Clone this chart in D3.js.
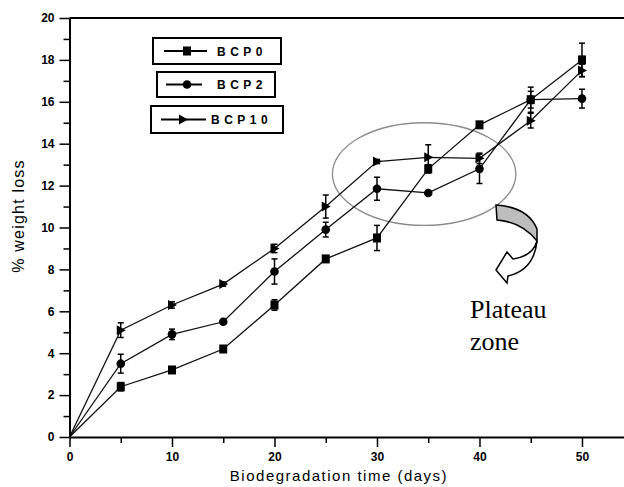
<!DOCTYPE html>
<html>
<head>
<meta charset="utf-8">
<script src="https://cdn.jsdelivr.net/npm/d3@7/dist/d3.min.js"></script>
<style>
  body { margin: 0; background: #fff; }
  svg { display: block; }
</style>
</head>
<body>
<svg id="chart"></svg>
<script>
const width = 624;
const height = 487;

// data
const days = [0, 5, 10, 15, 20, 25, 30, 35, 40, 45, 50];
const bcp0 = [0, 2.4, 3.2, 4.2, 6.3, 8.5, 9.5, 12.8, 14.9, 16.1, 18.0];
const bcp0Err = [0, 0.2, 0.15, 0.1, 0.25, 0.1, 0.6, 0.2, 0.15, 0.6, 0.8];
const bcp2 = [0, 3.5, 4.9, 5.5, 7.9, 9.9, 11.85, 11.65, 12.8, 16.1, 16.15];
const bcp2Err = [0, 0.45, 0.25, 0.1, 0.6, 0.35, 0.55, 0.1, 0.7, 0.4, 0.45];
const bcp10 = [0, 5.1, 6.3, 7.3, 9.0, 11.0, 13.15, 13.35, 13.3, 15.1, 17.5];
const bcp10Err = [0, 0.35, 0.15, 0.1, 0.2, 0.55, 0.1, 0.6, 0.25, 0.35, 0.3];
const seriesNames = ["BCP0", "BCP2", "BCP10"];
const xMajorTicks = [0, 10, 20, 30, 40, 50];
const xMinorTicks = [5, 15, 25, 35, 45];
const yMajorTicks = [0, 2, 4, 6, 8, 10, 12, 14, 16, 18, 20];
const yMinorTicks = [1, 3, 5, 7, 9, 11, 13, 15, 17, 19];

const series = [
  { name: seriesNames[0], values: bcp0, err: bcp0Err, shape: "square" },
  { name: seriesNames[1], values: bcp2, err: bcp2Err, shape: "circle" },
  { name: seriesNames[2], values: bcp10, err: bcp10Err, shape: "triangle" },
];

const svg = d3.select("#chart").attr("width", width).attr("height", height);

const x = d3.scaleLinear().domain([0, 54.1]).range([69.5, width]);
const y = d3.scaleLinear().domain([0, 20]).range([437, 18]);

const axisFont = "'Liberation Sans', Arial, sans-serif";

// marker drawing
function marker(g, shape) {
  if (shape === "square") {
    g.append("rect").attr("x", -4).attr("y", -4.5).attr("width", 8).attr("height", 9).attr("fill", "#000");
  } else if (shape === "circle") {
    g.append("circle").attr("r", 4.3).attr("fill", "#000");
  } else {
    g.append("path").attr("d", "M-4,-5L5,0L-4,5Z").attr("fill", "#000");
  }
}

// annotation ellipse (plateau zone)
svg.append("ellipse")
  .attr("cx", x(34.6))
  .attr("cy", y(12.55))
  .attr("rx", x(34.6 + 8.95) - x(34.6))
  .attr("ry", y(12.55) - y(12.55 + 2.45))
  .attr("fill", "none")
  .attr("stroke", "#8a8a8a")
  .attr("stroke-width", 1.3);

// lines
const line = d3.line().x((d, i) => x(days[i])).y(d => y(d));
series.forEach(s => {
  svg.append("path")
    .datum(s.values)
    .attr("fill", "none")
    .attr("stroke", "#111")
    .attr("stroke-width", 1.3)
    .attr("d", line);
});

// error bars
series.forEach(s => {
  const eb = svg.append("g").selectAll("g")
    .data(s.values.map((v, i) => ({ d: days[i], v, e: s.err[i] })).filter(p => p.e > 0))
    .join("g");
  eb.append("line")
    .attr("x1", p => x(p.d)).attr("x2", p => x(p.d))
    .attr("y1", p => y(p.v - p.e)).attr("y2", p => y(p.v + p.e))
    .attr("stroke", "#000").attr("stroke-width", 1.5);
  [-1, 1].forEach(sign => {
    eb.append("line")
      .attr("x1", p => x(p.d) - 3).attr("x2", p => x(p.d) + 3)
      .attr("y1", p => y(p.v + sign * p.e)).attr("y2", p => y(p.v + sign * p.e))
      .attr("stroke", "#000").attr("stroke-width", 1.5);
  });
});

// markers (skip the origin)
series.forEach(s => {
  s.values.forEach((v, i) => {
    if (i === 0) return;
    const g = svg.append("g").attr("transform", `translate(${x(days[i])},${y(v)})`);
    marker(g, s.shape);
  });
});

// axes
const yAxis = svg.append("g")
  .attr("transform", `translate(${x(0)},0)`)
  .call(d3.axisLeft(y).tickValues(yMajorTicks).tickSize(10).tickSizeOuter(0).tickPadding(5));
svg.append("g")
  .attr("transform", `translate(${x(0)},0)`)
  .call(d3.axisLeft(y).tickValues(yMinorTicks).tickSize(6).tickFormat(""))
  .call(g => g.select(".domain").remove());

const xAxis = svg.append("g")
  .attr("transform", `translate(0,${y(0)})`)
  .call(d3.axisBottom(x).tickValues(xMajorTicks).tickSize(10).tickSizeOuter(0).tickPadding(5));
svg.append("g")
  .attr("transform", `translate(0,${y(0)})`)
  .call(d3.axisBottom(x).tickValues(xMinorTicks).tickSize(6).tickFormat(""))
  .call(g => g.select(".domain").remove());

svg.selectAll(".domain").attr("stroke", "#000").attr("stroke-width", 2);
svg.selectAll(".tick line").attr("stroke", "#000").attr("stroke-width", 1.5);
svg.selectAll(".tick text")
  .attr("font-family", axisFont)
  .attr("font-size", "12px")
  .attr("font-weight", "bold")
  .attr("fill", "#000");

// top frame line
svg.append("line")
  .attr("x1", x(0)).attr("x2", x.range()[1])
  .attr("y1", y(20)).attr("y2", y(20))
  .attr("stroke", "#000").attr("stroke-width", 2);

// axis titles
svg.append("text")
  .attr("transform", `translate(24,${216}) rotate(-90)`)
  .attr("text-anchor", "middle")
  .attr("font-family", axisFont)
  .attr("font-size", "16px")
  .attr("letter-spacing", "1.2px")
  .text("% weight loss");

svg.append("text")
  .attr("x", 339)
  .attr("y", 481)
  .attr("text-anchor", "middle")
  .attr("font-family", axisFont)
  .attr("font-size", "15px")
  .attr("letter-spacing", "1.5px")
  .text("Biodegradation time (days)");

// legend: one box per series
const legendBoxes = [
  { x: 153, y: 38, w: 128, h: 26, lx1: 164, lx2: 207, mx: 187, tx: 217 },
  { x: 157, y: 72, w: 118, h: 25, lx1: 166, lx2: 202, mx: 187, tx: 217 },
  { x: 151, y: 106, w: 132, h: 27, lx1: 161, lx2: 206, mx: 183, tx: 211 },
];
series.forEach((s, i) => {
  const b = legendBoxes[i];
  const g = svg.append("g");
  g.append("rect")
    .attr("x", b.x).attr("y", b.y).attr("width", b.w).attr("height", b.h)
    .attr("fill", "#fff").attr("stroke", "#000").attr("stroke-width", 2);
  const cy = b.y + b.h / 2;
  g.append("line")
    .attr("x1", b.lx1).attr("x2", b.lx2).attr("y1", cy).attr("y2", cy)
    .attr("stroke", "#000").attr("stroke-width", 1.8);
  marker(g.append("g").attr("transform", `translate(${b.mx},${cy})`), s.shape);
  g.append("text")
    .attr("x", b.tx).attr("y", cy + 4.5)
    .attr("font-family", axisFont)
    .attr("font-size", "12px")
    .attr("font-weight", "bold")
    .attr("letter-spacing", "4.5px")
    .text(s.name);
});

// curved arrow pointing to the plateau label
const arrow = svg.append("g");
arrow.append("path")
  .attr("d", "M496,205 Q528,207 537,229 L537,241 Q522,222 497,220 Z")
  .attr("fill", "#bdbdbd").attr("stroke", "#000").attr("stroke-width", 1.5);
arrow.append("path")
  .attr("d", "M537,241 Q533,256 513,259 L507,252 L496,270 L507,283 L508,276 Q534,270 537,241 Z")
  .attr("fill", "#fff").attr("stroke", "#000").attr("stroke-width", 1.5);

// plateau label
svg.append("text")
  .attr("x", 470).attr("y", 318)
  .attr("font-family", "'Liberation Serif', 'Times New Roman', serif")
  .attr("font-size", "26px")
  .text("Plateau");
svg.append("text")
  .attr("x", 470).attr("y", 350)
  .attr("font-family", "'Liberation Serif', 'Times New Roman', serif")
  .attr("font-size", "26px")
  .text("zone");
</script>
</body>
</html>
